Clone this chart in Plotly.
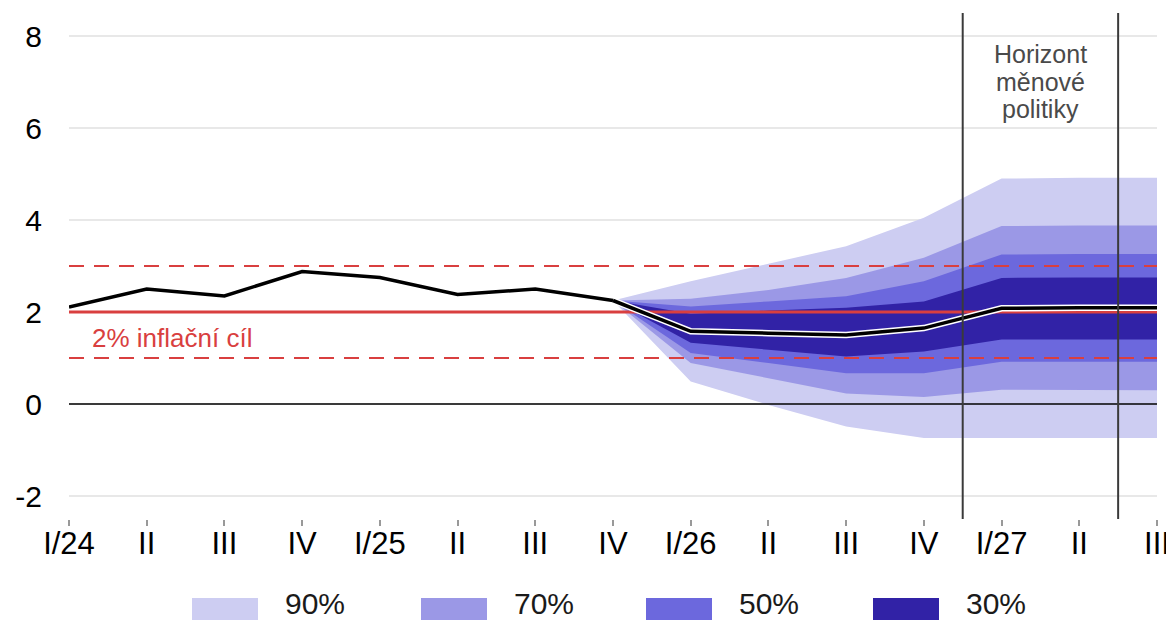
import plotly.graph_objects as go

categories = ["I/24", "II", "III", "IV", "I/25", "II", "III", "IV",
              "I/26", "II", "III", "IV", "I/27", "II", "III"]
actual = [2.11, 2.50, 2.35, 2.88, 2.75, 2.38, 2.50, 2.25]
# forecast from IV/25 onward (index 7..14)
median = [2.25, 1.58, 1.54, 1.50, 1.65, 2.08, 2.09, 2.09]
up90 = [2.25, 2.67, 3.05, 3.43, 4.05, 4.90, 4.92, 4.92]
up70 = [2.25, 2.29, 2.48, 2.74, 3.18, 3.87, 3.88, 3.88]
up50 = [2.25, 2.12, 2.23, 2.34, 2.67, 3.25, 3.26, 3.26]
up30 = [2.25, 1.96, 2.03, 2.09, 2.23, 2.74, 2.75, 2.75]
lo30 = [2.25, 1.33, 1.18, 1.03, 1.14, 1.40, 1.40, 1.40]
lo50 = [2.25, 1.11, 0.89, 0.67, 0.67, 0.92, 0.92, 0.92]
lo70 = [2.25, 0.89, 0.56, 0.23, 0.15, 0.31, 0.30, 0.30]
lo90 = [2.25, 0.49, -0.02, -0.49, -0.74, -0.74, -0.74, -0.74]
band_labels = ["90%", "70%", "50%", "30%"]
band_colors = ["#CDCDF2", "#9B98E6", "#6C68DD", "#3122A6"]
y_ticks = [-2, 0, 2, 4, 6, 8]
y_ticktext = ["-2", "0", "2", "4", "6", "8"]
target = 2.0
tol_low, tol_high = 1.0, 3.0
horizon = [11.5, 13.5]
horizon_text = ["Horizont", "měnové", "politiky"]

xi = list(range(len(categories)))
xf = xi[7:]

fig = go.Figure()

bands = [(up90, lo90), (up70, lo70), (up50, lo50), (up30, lo30)]
for (up, lo), col, lab in zip(bands, band_colors, band_labels):
    fig.add_trace(go.Scatter(
        x=xf + xf[::-1], y=up + lo[::-1], fill="toself", fillcolor=col,
        line=dict(width=0), mode="lines", name=lab, showlegend=False,
        hoverinfo="skip"))

red = "#D93F3F"
fig.add_trace(go.Scatter(x=[0, 14], y=[target, target], mode="lines",
                         line=dict(color=red, width=3), showlegend=False))
for v in (tol_low, tol_high):
    fig.add_trace(go.Scatter(x=[0, 14], y=[v, v], mode="lines",
                             line=dict(color=red, width=2, dash="15px,10px"),
                             showlegend=False))
fig.add_trace(go.Scatter(x=[0, 14], y=[0, 0], mode="lines",
                         line=dict(color="black", width=1.5), showlegend=False))

fig.add_trace(go.Scatter(x=xf, y=median, mode="lines",
                         line=dict(color="white", width=6.5), showlegend=False))
fig.add_trace(go.Scatter(x=xi[:8], y=actual, mode="lines",
                         line=dict(color="black", width=3.5), showlegend=False))
fig.add_trace(go.Scatter(x=xf, y=median, mode="lines",
                         line=dict(color="black", width=3.5), showlegend=False))

for h in horizon:
    fig.add_shape(type="line", xref="x", yref="paper", x0=h, x1=h, y0=0, y1=1,
                  line=dict(color="#3A3A3A", width=2), layer="above")

fig.add_annotation(x=0.27, y=1.44, xref="x", yref="y", text="2% inflační cíl",
                   showarrow=False, xanchor="left", yanchor="middle",
                   font=dict(size=26, color=red))
for txt, yv in zip(horizon_text, [7.61, 7.0, 6.41]):
    fig.add_annotation(x=12.5, y=yv, xref="x", yref="y", text=txt,
                       showarrow=False, xanchor="center", yanchor="middle",
                       font=dict(size=25, color="#4A4A4A"))

# page offset of 8px (body margin): figure coordinates = screen - 8
W, H = 1166, 614
PL, PR, PT, PB = 61, 1149, 5, 511
leg_x = [184, 413, 638, 865]
for x0, col, lab in zip(leg_x, band_colors, band_labels):
    fig.add_shape(type="rect", xref="paper", yref="paper",
                  x0=(x0 - PL) / (PR - PL), x1=(x0 + 66 - PL) / (PR - PL),
                  y0=(PB - 590) / (PB - PT), y1=(PB - 612) / (PB - PT),
                  fillcolor=col, line=dict(width=0))
    fig.add_annotation(xref="paper", yref="paper", x=(x0 + 92 - PL) / (PR - PL),
                       y=(PB - 613) / (PB - PT), text=lab, showarrow=False,
                       xanchor="left", yanchor="bottom", borderpad=0,
                       font=dict(size=30, color="#1a1a1a"))

fig.update_layout(
    width=W, height=H, margin=dict(l=PL, r=W - PR, t=PT, b=H - PB),
    plot_bgcolor="white", paper_bgcolor="white",
    font=dict(family="Arial, Liberation Sans, sans-serif", color="black"),
    showlegend=False,
)
fig.update_xaxes(range=[0, 14], tickvals=xi, ticktext=categories,
                 showgrid=False, zeroline=False, showline=False,
                 ticks="outside", ticklen=6, tickcolor="#999999", tickwidth=1.5,
                 tickfont=dict(size=31), ticklabelstandoff=-9, automargin=False)
fig.update_yaxes(range=[-2.5, 8.5], tickvals=y_ticks, ticktext=y_ticktext,
                 showgrid=True, gridcolor="#E8E8E8", gridwidth=1.5,
                 zeroline=False, showline=False, ticks="",
                 tickfont=dict(size=30), ticklabelstandoff=26, automargin=False)

fig.write_html("out.html")
